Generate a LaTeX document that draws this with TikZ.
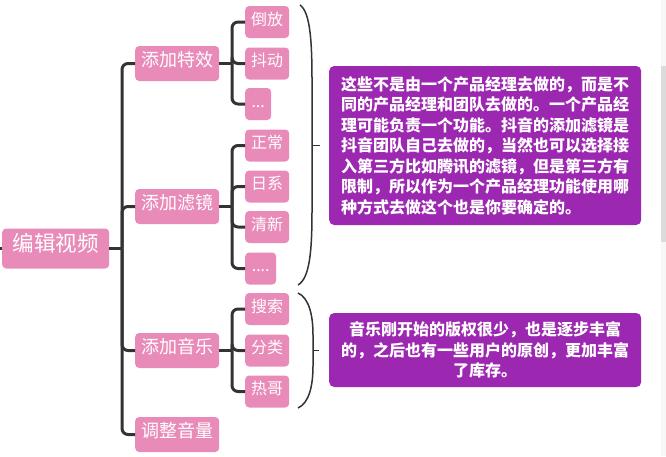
\documentclass[tikz,border=0pt]{standalone}
\usepackage{fontspec}
\setmainfont{Noto Sans CJK SC}
\usepackage{xcolor}
\definecolor{pinkbox}{HTML}{E98BB9}
\definecolor{notebox}{HTML}{9C27B0}
\definecolor{linegray}{HTML}{333333}
\begin{document}
\begin{tikzpicture}[x=1pt,y=-1pt,
  topic/.style={fill=pinkbox,text=white,rounded corners=4pt,inner sep=0pt,text height=0.8em,text depth=0.2em,anchor=west},
  roottopic/.style={topic,minimum width=107pt,minimum height=40pt,font=\fontsize{21.5}{21.5}\selectfont},
  maintopic/.style={topic,minimum width=84pt,minimum height=35pt,font=\fontsize{18}{18}\selectfont},
  subtopic/.style={topic,minimum width=44pt,minimum height=32pt,font=\fontsize{16}{16}\selectfont},
  note/.style={fill=notebox,text=white,rounded corners=5pt,anchor=west,inner sep=0pt,minimum width=312pt,font=\fontsize{16}{20.5}\selectfont\bfseries},
  conn/.style={draw=linegray,line width=3pt,rounded corners=6pt},
  brace/.style={draw=linegray,line width=1.5pt}]
  \useasboundingbox (0,0) rectangle (666,456);
  \fill[black!3] (661,0) rectangle (666,456); \fill[black!14] (661,66) rectangle (666,242);
  % topics
  \node[roottopic] (edit) at (2,248.5) {编辑视频};
  \node[maintopic] (effect) at (135,63.5) {添加特效}; \node[maintopic] (filter) at (135,206.5) {添加滤镜};
  \node[maintopic] (music) at (135,350.5) {添加音乐}; \node[maintopic] (volume) at (135,434.5) {调整音量};
  \node[subtopic] (reverse) at (245,22) {倒放}; \node[subtopic] (shake) at (245,63.5) {抖动};
  \node[subtopic,minimum width=26pt] (effectmore) at (245,104) {...};
  \node[subtopic] (normal) at (245,145.5) {正常}; \node[subtopic] (japan) at (245,186.5) {日系};
  \node[subtopic] (fresh) at (245,227) {清新}; \node[subtopic,minimum width=31pt] (filtermore) at (245,268.5) {....};
  \node[subtopic] (search) at (245,309) {搜索}; \node[subtopic] (kind) at (245,350.5) {分类}; \node[subtopic] (hot) at (245,391.5) {热哥};
  % connectors
  \coordinate (edit in) at (0,248.5); \coordinate (edit j) at (122,248.5);
  \draw[conn] (edit in) -- (edit.west); \draw[conn] (edit.east) -- (edit j);
  \foreach \c in {effect,filter,music,volume} \draw[conn] (edit j) |- (\c.west);
  \coordinate (effect j) at (232,63.5); \coordinate (filter j) at (232,206.5); \coordinate (music j) at (232,350.5);
  \draw[conn] (effect.east) -- (effect j); \draw[conn] (filter.east) -- (filter j); \draw[conn] (music.east) -- (music j);
  \foreach \c in {reverse,shake,effectmore} \draw[conn] (effect j) |- (\c.west);
  \foreach \c in {normal,japan,fresh,filtermore} \draw[conn] (filter j) |- (\c.west);
  \foreach \c in {search,kind,hot} \draw[conn] (music j) |- (\c.west);
  % braces and notes
  \draw[brace] (300,5) .. controls (310,12) and (312,40) .. (312,80) -- (312,210) .. controls (312,250) and (310,278) .. (298,285);
  \draw[brace] (298,293) .. controls (309,298) and (313,315) .. (313,335) -- (313,366) .. controls (313,386) and (309,403) .. (298,408);
  \coordinate (brace a) at (312,145.5); \coordinate (brace b) at (313,350.5);
  \draw[brace] (brace a) -- ++(8,0); \draw[brace] (brace b) -- ++(6,0);
  \node[note,minimum height=159pt,align=left] (filternote) at (329,145.5) {这些不是由一个产品经理去做的，而是不\\同的产品经理和团队去做的。一个产品经\\理可能负责一个功能。抖音的添加滤镜是\\抖音团队自己去做的，当然也可以选择接\\入第三方比如腾讯的滤镜，但是第三方有\\限制，所以作为一个产品经理功能使用哪\\种方式去做这个也是你要确定的。};
  \node[note,minimum height=74pt,align=center] (musicnote) at (329,350) {音乐刚开始的版权很少，也是逐步丰富\\的，之后也有一些用户的原创，更加丰富\\了库存。};
\end{tikzpicture}
\end{document}
